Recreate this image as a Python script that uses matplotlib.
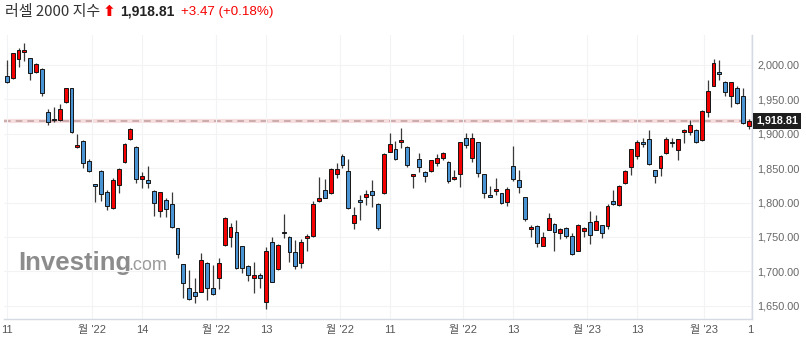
import numpy as np
import matplotlib
matplotlib.use("Agg")
import matplotlib.pyplot as plt

# 러셀 2000 일봉
opens = [1983.5, 1980.6, 2008.7, 2018.4, 2009.7, 1989.3, 1994.2, 1932.2, 1921.5, 1920.0,
         1946.7, 1966.1, 1881.3, 1890.0, 1860.5, 1827.0, 1845.9, 1814.9, 1791.7, 1825.6,
         1858.5, 1892.4, 1881.3, 1834.3, 1832.8, 1816.9, 1788.3, 1803.8, 1797.5, 1762.6,
         1710.3, 1675.4, 1670.5, 1670.5, 1712.7, 1675.4, 1689.9, 1738.4, 1750.5, 1757.8,
         1736.9, 1707.8, 1689.9, 1694.8, 1656.0, 1742.2, 1703.5, 1757.8, 1750.5, 1728.7,
         1712.7, 1748.0, 1751.5, 1802.8, 1818.3, 1813.5, 1841.1, 1867.7, 1845.9, 1770.8,
         1803.8, 1808.6, 1817.4, 1797.5, 1813.5, 1874.0, 1877.4, 1887.6, 1881.3, 1838.2,
         1862.9, 1845.0, 1845.9, 1858.0, 1865.3, 1859.5, 1833.8, 1841.1, 1893.4, 1865.3,
         1887.6, 1841.0, 1811.0, 1816.9, 1813.5, 1801.3, 1853.6, 1832.8, 1807.7, 1762.0,
         1766.0, 1737.4, 1760.2, 1768.9, 1755.4, 1763.6, 1751.5, 1729.6, 1759.1, 1771.3,
         1760.2, 1767.4, 1766.4, 1802.8, 1796.5, 1828.0, 1852.2, 1867.7, 1887.6, 1892.0,
         1847.4, 1850.7, 1871.6, 1888.6, 1876.5, 1903.1, 1903.1, 1905.5, 1891.0, 1931.2,
         1970.0, 1989.4, 1975.8, 1954.9, 1966.1, 1955.4, 1911.8]
highs = [2007.3, 2017.0, 2024.2, 2031.5, 2010.7, 2002.4, 1995.2, 1936.0, 1939.4, 1942.8,
         1967.0, 1967.0, 1899.7, 1891.0, 1862.9, 1827.5, 1847.4, 1818.3, 1835.3, 1849.8,
         1886.1, 1908.0, 1882.3, 1845.0, 1853.7, 1817.8, 1815.9, 1806.2, 1815.9, 1763.6,
         1711.2, 1702.0, 1690.9, 1727.2, 1713.7, 1709.3, 1719.0, 1779.6, 1769.9, 1774.7,
         1737.4, 1709.3, 1714.1, 1697.2, 1735.9, 1750.5, 1739.3, 1782.9, 1752.0, 1745.6,
         1747.0, 1753.9, 1802.3, 1837.7, 1834.3, 1849.8, 1857.1, 1870.2, 1862.9, 1794.0,
         1811.0, 1818.3, 1832.8, 1799.0, 1871.6, 1900.7, 1889.5, 1908.0, 1882.3, 1842.0,
         1871.6, 1846.4, 1862.5, 1870.2, 1874.0, 1860.5, 1847.4, 1888.6, 1900.7, 1900.7,
         1888.6, 1842.0, 1824.0, 1835.3, 1814.0, 1822.2, 1882.7, 1847.0, 1808.0, 1767.4,
         1767.4, 1757.8, 1785.4, 1770.0, 1762.5, 1765.0, 1755.4, 1769.4, 1764.0, 1787.8,
         1782.0, 1768.0, 1797.5, 1818.3, 1825.0, 1847.0, 1878.0, 1891.0, 1893.4, 1905.5,
         1848.0, 1869.0, 1895.8, 1894.4, 1893.0, 1907.0, 1920.0, 1906.5, 1934.0, 1978.2,
         2008.7, 2007.3, 1976.7, 1976.0, 1969.5, 1966.1, 1921.1]
lows = [1974.3, 1980.0, 1996.6, 2005.8, 1978.2, 1987.9, 1954.5, 1912.8, 1916.7, 1918.6,
        1945.3, 1901.2, 1879.8, 1849.8, 1845.0, 1801.4, 1802.3, 1789.2, 1790.2, 1813.5,
        1858.0, 1891.5, 1828.0, 1820.7, 1821.7, 1780.5, 1779.6, 1779.6, 1762.6, 1720.0,
        1660.9, 1658.4, 1653.6, 1669.6, 1658.4, 1665.7, 1674.4, 1737.4, 1736.0, 1703.5,
        1697.2, 1686.0, 1668.1, 1675.4, 1645.3, 1684.1, 1702.0, 1748.0, 1714.1, 1703.0,
        1704.5, 1729.6, 1750.5, 1801.4, 1806.2, 1812.0, 1836.2, 1849.8, 1790.7, 1761.1,
        1774.7, 1796.5, 1794.0, 1760.2, 1812.5, 1873.1, 1861.9, 1879.8, 1852.2, 1821.7,
        1844.0, 1830.4, 1845.0, 1853.7, 1861.9, 1828.0, 1832.8, 1823.2, 1879.8, 1859.5,
        1837.7, 1806.3, 1808.0, 1811.0, 1798.0, 1795.0, 1832.0, 1814.0, 1773.8, 1750.5,
        1736.0, 1737.0, 1760.0, 1729.6, 1747.0, 1748.0, 1723.8, 1729.0, 1750.5, 1739.8,
        1760.0, 1748.0, 1761.2, 1797.0, 1795.6, 1827.0, 1840.0, 1862.9, 1881.3, 1855.0,
        1828.0, 1838.0, 1871.0, 1881.3, 1861.9, 1886.0, 1898.3, 1886.0, 1890.0, 1924.0,
        1969.0, 1978.2, 1954.9, 1938.5, 1943.5, 1913.8, 1906.5]
closes = [1975.8, 2017.0, 2022.3, 2021.8, 1988.9, 2001.0, 1959.8, 1917.6, 1919.6, 1936.0,
          1966.1, 1902.1, 1883.7, 1858.0, 1845.9, 1824.6, 1812.0, 1795.0, 1832.8, 1848.3,
          1884.7, 1907.5, 1834.3, 1839.2, 1828.0, 1799.9, 1814.9, 1790.2, 1765.0, 1724.8,
          1682.7, 1659.4, 1664.7, 1716.0, 1676.4, 1666.7, 1711.7, 1778.1, 1765.0, 1704.5,
          1704.5, 1694.8, 1694.8, 1689.9, 1729.6, 1685.0, 1738.4, 1755.3, 1728.7, 1707.8,
          1743.2, 1751.5, 1797.5, 1806.2, 1807.2, 1848.3, 1848.8, 1854.6, 1791.7, 1782.0,
          1800.4, 1812.5, 1811.0, 1762.6, 1870.2, 1884.7, 1862.9, 1891.0, 1854.6, 1841.1,
          1851.3, 1838.7, 1861.4, 1864.3, 1871.6, 1831.9, 1837.7, 1887.6, 1883.7, 1894.4,
          1842.5, 1814.4, 1808.6, 1819.8, 1799.0, 1819.3, 1834.0, 1823.0, 1775.7, 1765.0,
          1741.7, 1749.5, 1778.1, 1757.8, 1761.6, 1751.9, 1724.9, 1767.4, 1762.6, 1752.9,
          1773.7, 1755.4, 1795.0, 1797.5, 1824.1, 1846.0, 1877.4, 1887.6, 1884.7, 1856.1,
          1838.7, 1867.7, 1892.0, 1886.2, 1892.0, 1905.5, 1912.8, 1887.6, 1933.6, 1962.2,
          2002.5, 1986.9, 1960.3, 1974.9, 1944.3, 1915.3, 1918.81]

tick_pos = [0, 14.5, 23, 35.5, 44, 56.5, 65, 77.5, 86, 98.5, 107, 118.3, 126.3]
tick_labels = ["11", "월 '22", "14", "월 '22", "13", "월 '22", "11", "월 '22",
               "13", "월 '23", "13", "월 '23", "1"]
y_ticks = [1650, 1700, 1750, 1800, 1850, 1900, 1950, 2000]

last_price = closes[-1]
change = 3.47
change_pct = 0.18

UP = '#f50000'
DOWN = '#4a94d4'

fig = plt.figure(figsize=(8.06, 3.51), dpi=100)
ax = fig.add_axes([3.8 / 806, 32 / 351, 748 / 806, 284 / 351])

x = np.arange(len(closes))
o = np.array(opens)
c = np.array(closes)
colors = [UP if cc >= oo else DOWN for oo, cc in zip(o, c)]

ax.vlines(x, lows, highs, color='#3a3a3a', linewidth=0.9, zorder=2)
ax.bar(x, np.maximum(np.abs(c - o), 0.8), bottom=np.minimum(o, c), width=0.66,
       color=colors, edgecolor='#151515', linewidth=0.7, zorder=3)

# 현재가 기준선
ax.axhline(last_price, color='#f7dede', linewidth=3, zorder=1)
ax.axhline(last_price, color='#c4a3a3', linewidth=1.2, linestyle=(0, (4, 3)), zorder=1.5)

ax.set_xlim(-0.5, len(closes) - 0.5)
ax.set_ylim(1630.8, 2043.6)

ax.set_xticks(tick_pos)
ax.set_xticklabels(tick_labels, family=['Liberation Sans', 'Noto Sans CJK KR'],
                   fontsize=8, color='#555555')
ax.set_yticks(y_ticks)
ax.set_yticklabels([f"{v:,.2f}" for v in y_ticks], family='Liberation Sans',
                   fontsize=7.8, color='#666666')
ax.yaxis.tick_right()
ax.tick_params(axis='y', length=0, pad=4)
ax.tick_params(axis='x', length=0, pad=4)

ax.grid(True, color='#f2f3f5', linewidth=0.8, zorder=0)
for s in ['top', 'left']:
    ax.spines[s].set_visible(False)
for s in ['right', 'bottom']:
    ax.spines[s].set_color('#d5dae2')
    ax.spines[s].set_linewidth(1)

# 현재가 라벨
ax.annotate(f"{last_price:,.2f}", xy=(1.0, last_price), xycoords=('axes fraction', 'data'),
            xytext=(3, 0), textcoords='offset points', ha='left', va='center',
            fontsize=7.8, fontweight='bold', color='white', family='Liberation Sans',
            bbox=dict(boxstyle='square,pad=0.3', fc='#1e1e1e', ec='none'), zorder=5,
            annotation_clip=False)

# 워터마크
ax.text(0.019, 0.172, "Investing", transform=ax.transAxes, fontsize=18.5,
        fontweight='bold', color='#8c8c8c', family='Liberation Sans', zorder=1)
ax.text(0.166, 0.172, ".com", transform=ax.transAxes, fontsize=13,
        color='#9a9a9a', family='Liberation Sans', zorder=1)

# 제목줄
ty = 1 - 12 / 351
fig.text(5 / 806, ty, "러셀 2000 지수", fontsize=10.8, color='#333333',
         family=['Noto Sans CJK KR', 'DejaVu Sans'], va='center')
fig.text(103 / 806, ty, "⬆", fontsize=11, fontweight='bold', color=UP,
         family='DejaVu Sans', va='center')
fig.text(120 / 806, ty, f"{last_price:,.2f}", fontsize=10, fontweight='bold',
         color='#222222', family='Liberation Sans', va='center')
fig.text(181 / 806, ty, f"+{change:.2f} (+{change_pct:.2f}%)", fontsize=9.6,
         color=UP, family='Liberation Sans', va='center')

fig.savefig("out.png", dpi=100)
